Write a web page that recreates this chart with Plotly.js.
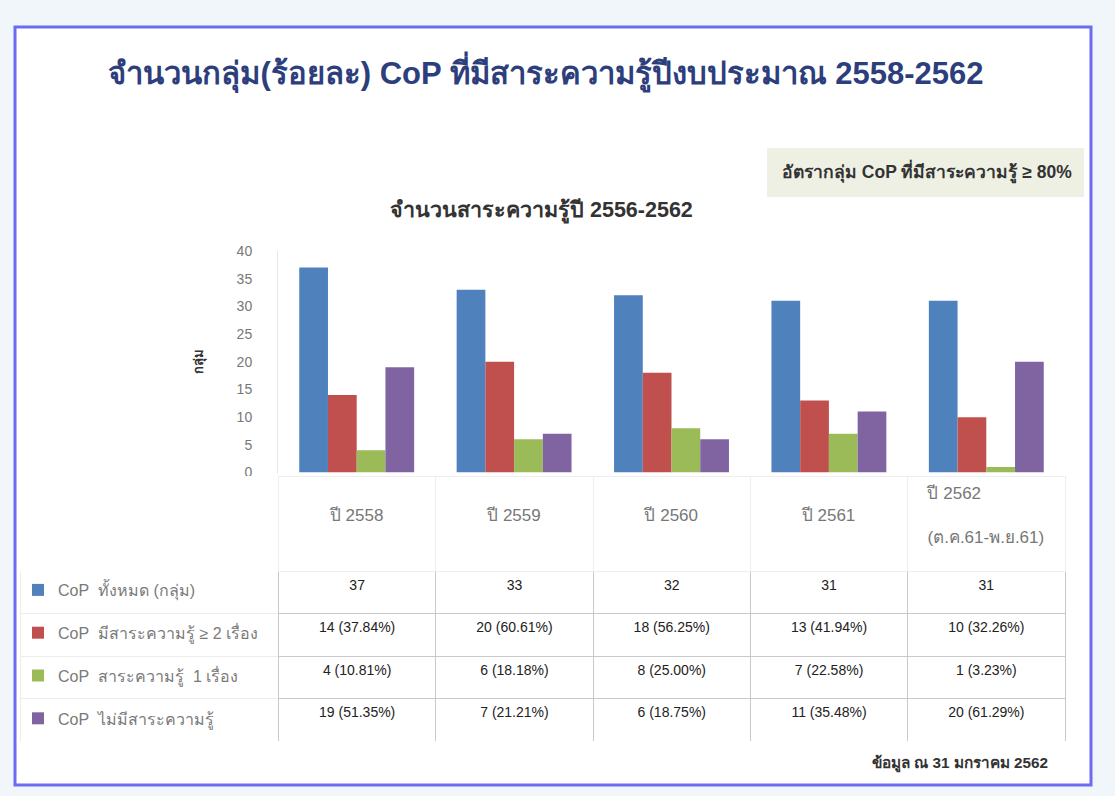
<!DOCTYPE html>
<html>
<head>
<meta charset="utf-8">
<script src="https://cdn.plot.ly/plotly-3.0.1.min.js"></script>
<style>html,body{margin:0;padding:0;background:#f0f6fa;}</style>
</head>
<body>
<div id="chart" style="width:1115px;height:796px;"></div>
<script>
// ---- data ----
const years = ['2558', '2559', '2560', '2561', '2562'];
const yearLabels = ['\u00a0<br>ปี 2558', '\u00a0<br>ปี 2559', '\u00a0<br>ปี 2560', '\u00a0<br>ปี 2561', 'ปี 2562<br>\u00a0<br>(ต.ค.61-พ.ย.61)'];
const seriesNames = ['CoP  ทั้งหมด (กลุ่ม)', 'CoP  มีสาระความรู้ ≥ 2 เรื่อง', 'CoP  สาระความรู้  1 เรื่อง', 'CoP  ไม่มีสาระความรู้'];
const totalCoP = [37, 33, 32, 31, 31];
const twoPlus = [14, 20, 18, 13, 10];
const twoPlusPct = ['37.84%', '60.61%', '56.25%', '41.94%', '32.26%'];
const oneTopic = [4, 6, 8, 7, 1];
const oneTopicPct = ['10.81%', '18.18%', '25.00%', '22.58%', '3.23%'];
const noTopic = [19, 7, 6, 11, 20];
const noTopicPct = ['51.35%', '21.21%', '18.75%', '35.48%', '61.29%'];
const colors = ['#4f81bd', '#c0504d', '#9bbb59', '#8064a2'];

const W = 1115, H = 796;
const px = x => x / W;
const py = y => 1 - y / H;
const FONT = 'Liberation Sans, Noto Sans, sans-serif';
const nb = s => s.replace(/ /g, '\u00a0');

const seriesValues = [totalCoP, twoPlus, oneTopic, noTopic];
const traces = seriesValues.map((vals, i) => ({
  type: 'bar', x: years, y: vals, name: nb(seriesNames[i]),
  marker: {color: colors[i]}, xaxis: 'x', yaxis: 'y', showlegend: true,
  legendgroup: 'g' + i, hoverinfo: 'x+y'
}));

// table
const fmt = (v, p) => v.map((n, k) => nb(n + ' (' + p[k] + ')'));
const colValues = [seriesNames.map(() => '')];
years.forEach((y, k) => {
  colValues.push([String(totalCoP[k]), fmt(twoPlus, twoPlusPct)[k], fmt(oneTopic, oneTopicPct)[k], fmt(noTopic, noTopicPct)[k]]);
});
traces.push({
  type: 'table',
  domain: {x: [px(20), px(1065)], y: [py(741), py(476)]},
  columnwidth: [258, 157, 157, 157, 157, 157],
  header: {
    values: [''].concat(yearLabels.map(nb)),
    height: 95,
    align: 'center',
    fill: {color: 'white'},
    line: {color: ['white', '#eeeeee', '#eeeeee', '#eeeeee', '#eeeeee', '#eeeeee'], width: 1},
    font: {family: FONT, size: 17, color: '#777777'}
  },
  cells: {
    values: colValues,
    height: 42.5,
    align: 'center',
    fill: {color: 'white'},
    line: {color: ['#ececec', '#c9c9c9', '#c9c9c9', '#c9c9c9', '#c9c9c9', '#c9c9c9'], width: 1},
    font: {family: FONT, size: 14, color: '#222222'}
  }
});

const layout = {
  width: W, height: H,
  margin: {l: 0, r: 0, t: 0, b: 0},
  paper_bgcolor: '#f0f6fa',
  plot_bgcolor: 'white',
  barmode: 'group',
  bargap: 0.27,
  bargroupgap: 0,
  showlegend: true,
  legend: {
    x: px(18), y: py(573), xanchor: 'left', yanchor: 'top',
    orientation: 'v', traceorder: 'grouped', tracegroupgap: 19,
    bgcolor: 'rgba(0,0,0,0)', borderwidth: 0,
    font: {family: FONT, size: 16, color: '#7a7a7a'}
  },
  title: {
    text: '<b>จำนวนกลุ่ม(ร้อยละ) CoP ที่มีสาระความรู้ปีงบประมาณ 2558-2562</b>',
    x: px(546), xanchor: 'center', xref: 'paper',
    y: py(73), yanchor: 'middle', yref: 'container',
    font: {family: FONT, size: 31, color: '#2d3e7c'}
  },
  xaxis: {
    domain: [px(278), px(1065)], type: 'category', showticklabels: false,
    showline: false, showgrid: false, zeroline: false, fixedrange: true
  },
  yaxis: {
    domain: [py(472.5), py(251)], range: [0, 40], dtick: 5,
    showgrid: false, zeroline: false, showline: true, linecolor: '#e6e6e6',
    ticks: '', ticklen: 0, ticklabelstandoff: 22,
    tickfont: {family: FONT, size: 14, color: '#777777'},
    title: {text: '<b>กลุ่ม</b>', standoff: 30,
            font: {family: FONT, size: 13, color: '#333333'}}
  },
  shapes: [
    {type: 'rect', xref: 'paper', yref: 'paper', x0: px(15), x1: px(1091), y0: py(785), y1: py(27),
     line: {color: '#6b6cf0', width: 3}, fillcolor: 'white', layer: 'below'},
    {type: 'rect', xref: 'paper', yref: 'paper', x0: px(767), x1: px(1084), y0: py(197), y1: py(148),
     line: {width: 0}, fillcolor: '#eef0e3', layer: 'below'}
  ],
  annotations: [
    {text: '<b>อัตรากลุ่ม CoP ที่มีสาระความรู้ ≥ 80%</b>', xref: 'paper', yref: 'paper',
     x: px(927), y: py(172), xanchor: 'center', yanchor: 'middle', showarrow: false,
     font: {family: FONT, size: 17.5, color: '#333333'}},
    {text: '<b>จำนวนสาระความรู้ปี 2556-2562</b>', xref: 'paper', yref: 'paper',
     x: px(541), y: py(211), xanchor: 'center', yanchor: 'middle', showarrow: false,
     font: {family: FONT, size: 21.5, color: '#333333'}},
    {text: '<b>ข้อมูล ณ 31 มกราคม 2562</b>', xref: 'paper', yref: 'paper',
     x: px(1050), y: py(763), xanchor: 'right', yanchor: 'middle', showarrow: false,
     font: {family: FONT, size: 15.3, color: '#333333'}}
  ]
};

Plotly.newPlot('chart', traces, layout, {displayModeBar: false, staticPlot: true});
</script>
</body>
</html>
